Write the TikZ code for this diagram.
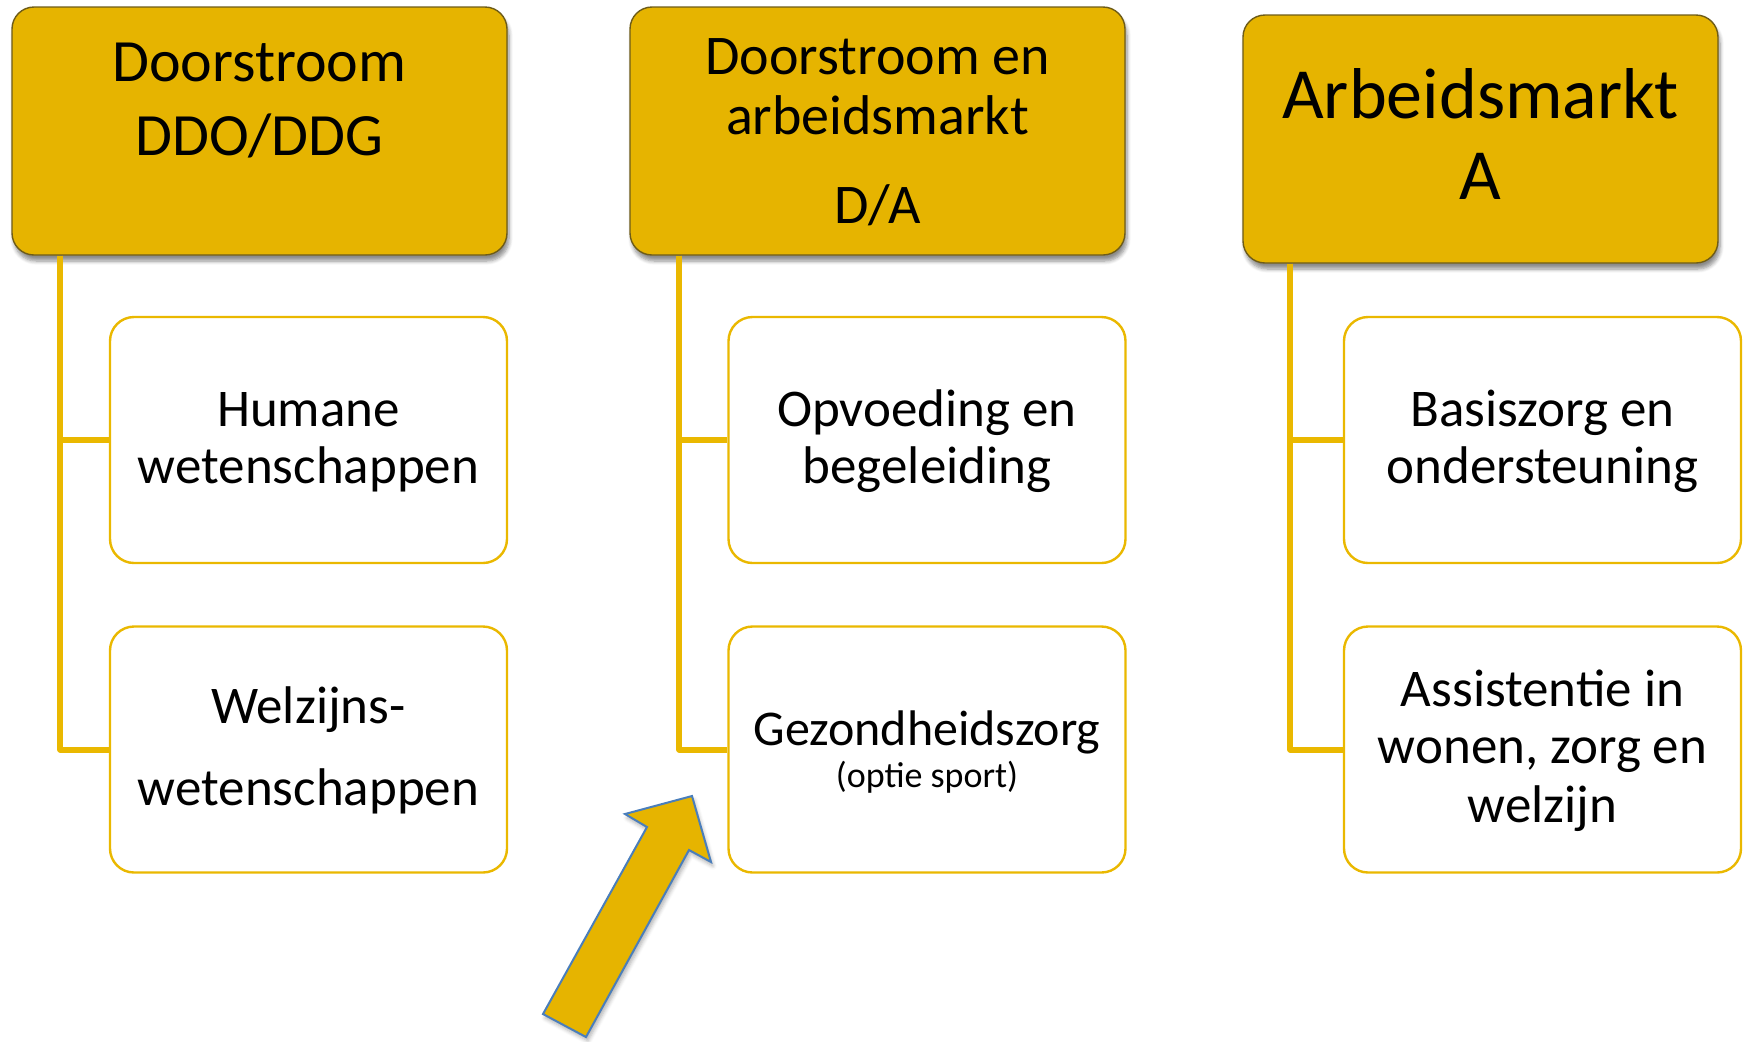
\documentclass[tikz,border=0pt]{standalone}
\usepackage{fontspec}
\setmainfont{Carlito}
\usetikzlibrary{shadows.blur}
\definecolor{gold}{RGB}{230,180,0}
\definecolor{goldline}{RGB}{234,184,0}
\definecolor{hdrline}{RGB}{110,92,24}
\definecolor{arrowblue}{RGB}{74,126,187}
\tikzset{
  hdr/.style={rectangle, rounded corners=11pt, fill=gold, draw=hdrline, line width=0.7pt,
    inner sep=0pt, blur shadow={shadow xshift=1pt, shadow yshift=-3pt, shadow blur steps=6, shadow opacity=45, shadow blur extra rounding=2pt}},
  child/.style={rectangle, rounded corners=12pt, fill=white, draw=goldline, line width=1.2pt,
    inner sep=0pt, minimum width=198.5pt, minimum height=123pt},
  conn/.style={draw=goldline, line width=3pt, line join=round},
  lbl/.style={inner sep=0pt, anchor=base, text=black},
  fh1/.style={lbl, font=\fontsize{30pt}{36pt}\selectfont},
  fh2/.style={lbl, font=\fontsize{28pt}{33pt}\selectfont},
  fh3/.style={lbl, font=\fontsize{36pt}{43pt}\selectfont},
  fc/.style={lbl, font=\fontsize{26.5pt}{30pt}\selectfont},
  fg/.style={lbl, font=\fontsize{25pt}{30pt}\selectfont},
  fs/.style={lbl, font=\fontsize{18pt}{22pt}\selectfont},
  bigarrow/.style={fill=gold, draw=arrowblue, line width=1pt, line join=miter,
    blur shadow={shadow xshift=1pt, shadow yshift=-2pt, shadow blur steps=5, shadow opacity=30}}
}
\begin{document}
\begin{tikzpicture}[x=0.5pt,y=-0.5pt]
\useasboundingbox (0,0) rectangle (1746,1041);

% header boxes
\node[hdr, minimum width=247.5pt, minimum height=124pt] (h1) at (259.5,131) {};
\node[hdr, minimum width=247.5pt, minimum height=124pt] (h2) at (877.5,131) {};
\node[hdr, minimum width=237.5pt, minimum height=124pt] (h3) at (1480.5,139) {};

% child boxes
\node[child] (c11) at (308.5,440) {};
\node[child] (c12) at (308.5,749.5) {};
\node[child] (c21) at (927,440) {};
\node[child] (c22) at (927,749.5) {};
\node[child] (c31) at (1542.5,440) {};
\node[child] (c32) at (1542.5,749.5) {};

% connectors
\coordinate (s1) at ([xshift=24.5pt]h1.south west);
\coordinate (s2) at ([xshift=25pt]h2.south west);
\coordinate (s3) at ([xshift=24pt]h3.south west);
\draw[conn] (s1) |- (c11.west);
\draw[conn] (s1) |- (c12.west);
\draw[conn] (s2) |- (c21.west);
\draw[conn] (s2) |- (c22.west);
\draw[conn] (s3) |- (c31.west);
\draw[conn] (s3) |- (c32.west);

% header texts
\node[fh1] (h1a) at (259.5,81) {Doorstroom};
\node[fh1] (h1b) at (259.5,155) {DDO/DDG};
\node[fh2] (h2a) at (877.5,74) {Doorstroom en};
\node[fh2] (h2b) at (877.5,134) {arbeidsmarkt};
\node[fh2] (h2c) at (877.5,223) {D/A};
\node[fh3] (h3a) at (1480.5,118) {Arbeidsmarkt};
\node[fh3] (h3b) at (1480.5,199) {A};

% child texts
\node[fc] (t11a) at (308.5,426) {Humane};
\node[fc] (t11b) at (308.5,483) {wetenschappen};
\node[fc] (t12a) at (308.5,723) {Welzijns-};
\node[fc] (t12b) at (308.5,805) {wetenschappen};
\node[fc] (t21a) at (927,426) {Opvoeding en};
\node[fc] (t21b) at (927,483) {begeleiding};
\node[fg] (t22a) at (927,745) {Gezondheidszorg};
\node[fs] (t22b) at (927,787) {(optie sport)};
\node[fc] (t31a) at (1542.5,426) {Basiszorg en};
\node[fc] (t31b) at (1542.5,483) {ondersteuning};
\node[fc] (t32a) at (1542.5,706) {Assistentie in};
\node[fc] (t32b) at (1542.5,763) {wonen, zorg en};
\node[fc] (t32c) at (1542.5,822) {welzijn};

% block arrow
\draw[bigarrow] (692,796) -- (711,862) -- (689,850) -- (586,1037) -- (543,1014)
  -- (647,827) -- (625,814) -- cycle;
\end{tikzpicture}
\end{document}
